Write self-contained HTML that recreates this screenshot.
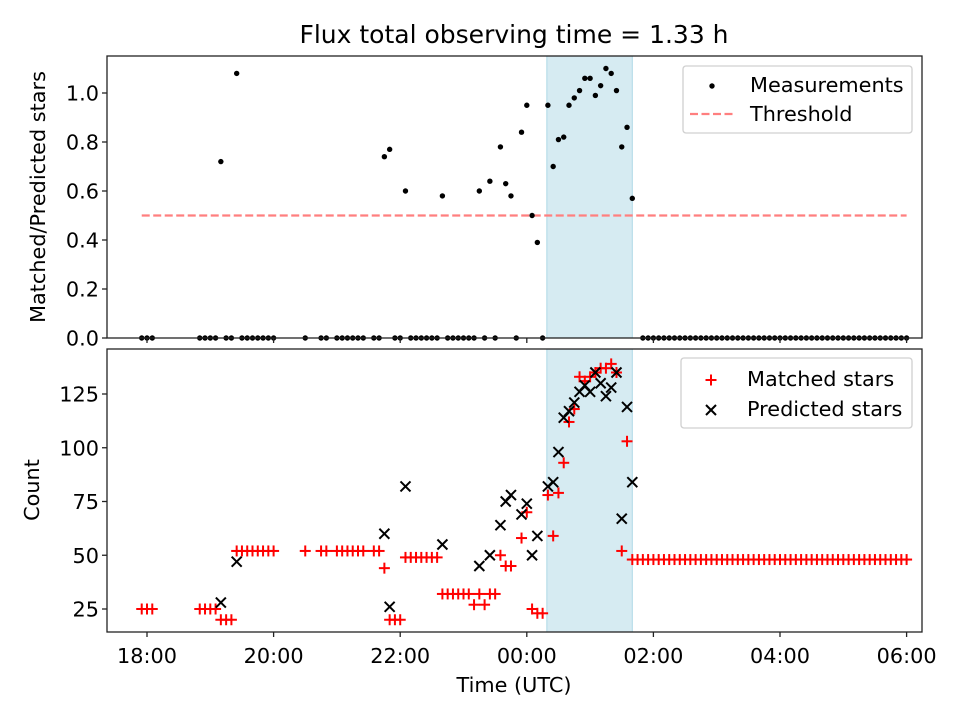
<!DOCTYPE html>
<html><head><meta charset="utf-8"><style>
body{margin:0;background:#fff;font-family:"Liberation Sans","DejaVu Sans",sans-serif;}
svg text{font-family:"DejaVu Sans","Liberation Sans",sans-serif;}
</style></head><body>
<svg id="c" width="960" height="720" xmlns="http://www.w3.org/2000/svg"></svg>
<script>
// minutes since 18:00 UTC
const measTimes = [70,85,225,230,245,280,315,325,335,340,345,355,360,365,370,380,385,390,395,400,405,410,415,420,425,430,435,440,445,450,455,460];
const measValues = [0.72,1.08,0.74,0.77,0.60,0.58,0.60,0.64,0.78,0.63,0.58,0.84,0.95,0.50,0.39,0.95,0.70,0.81,0.82,0.95,0.98,1.01,1.06,1.06,0.99,1.03,1.10,1.08,1.01,0.78,0.86,0.57];
const zeroTimes = [-5,0,5,50,55,60,65,75,80,90,95,100,105,110,115,120,150,165,170,180,185,190,195,200,205,215,220,235,240,250,255,260,265,270,275,285,290,295,300,305,310,320,330,350,375,
470,475,480,485,490,495,500,505,510,515,520,525,530,535,540,545,550,555,560,565,570,575,580,585,590,595,600,605,610,615,620,625,630,635,640,645,650,655,660,665,670,675,680,685,690,695,700,705,710,715,720];
const matchedTimes = [-5,0,5,50,55,60,65,70,75,80,85,90,95,100,105,110,115,120,150,165,170,180,185,190,195,200,205,215,220,225,230,235,240,245,250,255,260,265,270,275,280,285,290,295,300,305,310,315,320,325,330,335,340,345,355,360,365,370,375,380,385,390,395,400,405,410,415,420,425,430,435,440,445,450,455,
460,465,470,475,480,485,490,495,500,505,510,515,520,525,530,535,540,545,550,555,560,565,570,575,580,585,590,595,600,605,610,615,620,625,630,635,640,645,650,655,660,665,670,675,680,685,690,695,700,705,710,715,720];
const matchedValues = [25,25,25,25,25,25,25,20,20,20,52,52,52,52,52,52,52,52,52,52,52,52,52,52,52,52,52,52,52,44,20,20,20,49,49,49,49,49,49,49,32,32,32,32,32,32,27,32,27,32,32,50,45,45,58,70,25,23,23,78,59,79,93,112,118,133,131,133,135,137,137,139,135,52,103,
48,48,48,48,48,48,48,48,48,48,48,48,48,48,48,48,48,48,48,48,48,48,48,48,48,48,48,48,48,48,48,48,48,48,48,48,48,48,48,48,48,48,48,48,48,48,48,48,48,48,48,48,48];
const predTimes = [70,85,225,230,245,280,315,325,335,340,345,355,360,365,370,380,385,390,395,400,405,410,415,420,425,430,435,440,445,450,455,460];
const predValues = [28,47,60,26,82,55,45,50,64,75,78,69,74,50,59,82,84,98,114,117,121,126,129,126,135,130,124,128,135,67,119,84];
const xTickLabels = ["18:00","20:00","22:00","00:00","02:00","04:00","06:00"];
const xTickMinutes = [0,120,240,360,480,600,720];
const topTicks = [0,0.2,0.4,0.6,0.8,1.0];
const botTicks = [25,50,75,100,125];
const threshold = 0.5;
const shadeStart = 379, shadeEnd = 460;

const svg = document.getElementById('c');
const NS = 'http://www.w3.org/2000/svg';
const FS = 20.8;
function mk(tag, attrs, parent){const e=document.createElementNS(NS,tag);for(const k in attrs)e.setAttribute(k,attrs[k]);(parent||svg).appendChild(e);return e;}
const L=107,R=922,T1=56,B1=338,T2=349,B2=632;
const xs = m => 147 + m*63.3/60;
const y1 = v => 338 - v*245;
const y2 = v => 609 - (v-25)*2.15;

// title
let t=mk('text',{x:514,y:43,'text-anchor':'middle','font-size':25,fill:'#000'});t.textContent='Flux total observing time = 1.33 h';



// shaded spans
let s1=mk('rect',{x:xs(shadeStart),y:T1,width:xs(shadeEnd)-xs(shadeStart),height:B1-T1,fill:'#add8e6','fill-opacity':0.5,stroke:'#add8e6'});


let s2=mk('rect',{x:xs(shadeStart),y:T2,width:xs(shadeEnd)-xs(shadeStart),height:B2-T2,fill:'#add8e6','fill-opacity':0.5,stroke:'#add8e6'});



// threshold
let th=mk('line',{x1:xs(-5),x2:xs(720),y1:y1(threshold),y2:y1(threshold),stroke:'#ff7f7f','stroke-width':2.2,'stroke-dasharray':'8,3.5'});



// measurements
const gm=mk('g',{fill:'#000'});


measTimes.forEach((m,i)=>{const c=mk('circle',{cx:xs(m),cy:y1(measValues[i]),r:2.7},gm);

});
zeroTimes.forEach(m=>{const c=mk('circle',{cx:xs(m),cy:y1(0),r:2.7},gm);

});

// matched
const gp=mk('g',{stroke:'#ff0000','stroke-width':2});


function plus(x,y,p){const g=mk('g',{},p);mk('line',{x1:x-5.5,x2:x+5.5,y1:y,y2:y},g);mk('line',{x1:x,x2:x,y1:y-5.5,y2:y+5.5},g);return g;}
function cross(x,y,p){const g=mk('g',{},p);mk('line',{x1:x-5,x2:x+5,y1:y-5,y2:y+5},g);mk('line',{x1:x-5,x2:x+5,y1:y+5,y2:y-5},g);return g;}
matchedTimes.forEach((m,i)=>{const g=plus(xs(m),y2(matchedValues[i]),gp);

});
const gx=mk('g',{stroke:'#000','stroke-width':2});


predTimes.forEach((m,i)=>{const g=cross(xs(m),y2(predValues[i]),gx);

});

// frames
let f1=mk('rect',{x:L,y:T1,width:R-L,height:B1-T1,fill:'none',stroke:'#222','stroke-width':1.3});


let f2=mk('rect',{x:L,y:T2,width:R-L,height:B2-T2,fill:'none',stroke:'#222','stroke-width':1.3});



// x ticks
xTickMinutes.forEach((m,i)=>{
  const x=xs(m);
  mk('line',{x1:x,x2:x,y1:B1,y2:B1+5,stroke:'#222','stroke-width':1.3});
  mk('line',{x1:x,x2:x,y1:B2,y2:B2+5,stroke:'#222','stroke-width':1.3});
  const tx=mk('text',{x:x,y:663,'text-anchor':'middle','font-size':FS});
  tx.textContent=xTickLabels[i];
  
  
});
topTicks.forEach(v=>{
  const y=y1(v);mk('line',{x1:L-5,x2:L,y1:y,y2:y,stroke:'#222','stroke-width':1.3});
  const tx=mk('text',{x:L-8,y:y+7.5,'text-anchor':'end','font-size':FS});tx.textContent=v.toFixed(1);
  
  
});
botTicks.forEach(v=>{
  const y=y2(v);mk('line',{x1:L-5,x2:L,y1:y,y2:y,stroke:'#222','stroke-width':1.3});
  const tx=mk('text',{x:L-8,y:y+7.5,'text-anchor':'end','font-size':FS});tx.textContent=v;
  
  
});

// axis labels
let xl=mk('text',{x:514,y:692,'text-anchor':'middle','font-size':FS});xl.textContent='Time (UTC)';


let yl1=mk('text',{x:0,y:0,'text-anchor':'middle','font-size':FS,transform:'translate(45,197) rotate(-90)'});yl1.textContent='Matched/Predicted stars';


let yl2=mk('text',{x:0,y:0,'text-anchor':'middle','font-size':FS,transform:'translate(39,490) rotate(-90)'});yl2.textContent='Count';



// legends
const lg1=mk('g',{});


mk('rect',{x:683,y:66,width:229,height:67,rx:3,fill:'#fff','fill-opacity':0.8,stroke:'#d0d0d0','stroke-width':1.3},lg1);
mk('circle',{cx:712,cy:86,r:2.7,fill:'#000'},lg1);
let a=mk('text',{x:750,y:92,'font-size':FS},lg1);a.textContent='Measurements';


mk('line',{x1:690,x2:734,y1:114,y2:114,stroke:'#ff7f7f','stroke-width':2.2,'stroke-dasharray':'8,3.5'},lg1);
a=mk('text',{x:750,y:121,'font-size':FS},lg1);a.textContent='Threshold';



const lg2=mk('g',{});


mk('rect',{x:681,y:358,width:231,height:70,rx:3,fill:'#fff','fill-opacity':0.8,stroke:'#d0d0d0','stroke-width':1.3},lg2);
const pg=mk('g',{stroke:'#ff0000','stroke-width':2},lg2);plus(711,380,pg);
a=mk('text',{x:747,y:386,'font-size':FS},lg2);a.textContent='Matched stars';


const xg=mk('g',{stroke:'#000','stroke-width':2},lg2);cross(711,410,xg);
a=mk('text',{x:747,y:416,'font-size':FS},lg2);a.textContent='Predicted stars';


</script>
</body></html>
